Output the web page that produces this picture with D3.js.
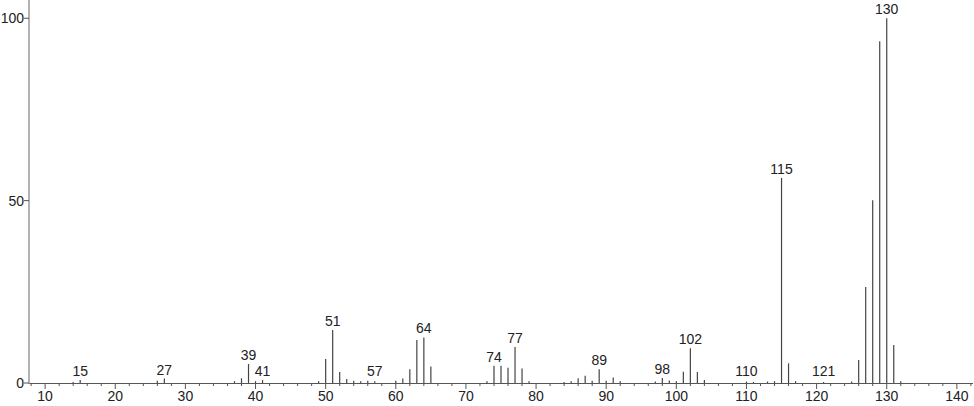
<!DOCTYPE html>
<html><head><meta charset="utf-8">
<script src="https://cdn.jsdelivr.net/npm/d3@7"></script>
<style>body{margin:0;background:#fff}svg{display:block}text{font-family:"Liberation Sans",Arial,sans-serif;}</style>
</head><body><svg id="c" width="974" height="406"></svg>
<script>
const mz = [14,15,26,27,37,38,39,40,41,49,50,51,52,53,54,55,56,57,60,61,62,63,64,65,73,74,75,76,77,78,79,84,85,86,87,88,89,90,91,92,97,98,99,100,101,102,103,104,110,111,113,114,115,116,117,121,125,126,127,128,129,130,131,132];
const intensity = [0.3,0.8,0.6,1.2,0.5,1.3,5.2,0.5,0.8,0.5,6.6,14.5,3.0,1.1,0.6,0.5,0.6,0.5,0.6,1.2,3.8,11.8,12.5,4.5,0.5,4.7,4.7,4.2,9.9,4.0,0.5,0.3,0.5,1.3,2.0,0.6,3.8,0.6,1.5,0.5,0.4,1.4,0.7,0.5,3.1,9.5,3.0,0.8,0.4,0.3,0.4,0.5,56.2,5.4,0.5,0.3,0.4,6.3,26.3,50.1,93.7,100,10.4,0.5];
const labeled = [15,27,39,41,51,57,64,74,77,89,98,102,110,115,121,130];
const xTicks = [10,20,30,40,50,60,70,80,90,100,110,120,130,140];
const yTicks = [0,50,100];

const svg = d3.select("#c");
const x = d3.scaleLinear().domain([7.7,142.3]).range([29,973]);
const y = d3.scaleLinear().domain([0,105]).range([383,0]);
const val = new Map(mz.map((m,i)=>[m,intensity[i]]));

// bars
svg.append("g").selectAll("line").data(mz).join("line")
  .attr("x1",d=>x(d)).attr("x2",d=>x(d))
  .attr("y1",y(0)).attr("y2",d=>y(val.get(d)))
  .attr("stroke","#444").attr("stroke-width",1.2);

// peak labels
svg.append("g").selectAll("text").data(labeled).join("text")
  .attr("x",d=>x(d)).attr("y",d=>Math.min(y(val.get(d)),380)-4)
  .attr("text-anchor","middle").attr("font-size",14).attr("fill","#222")
  .text(d=>d);

// x axis
const minor = d3.range(8,143,2);
const gx = svg.append("g");
gx.append("line").attr("x1",x(7.7)).attr("x2",973).attr("y1",383.5).attr("y2",383.5).attr("stroke","#555");
gx.selectAll("line.mi").data(minor).join("line").attr("class","mi")
  .attr("x1",d=>x(d)).attr("x2",d=>x(d)).attr("y1",383).attr("y2",d=>d%10===0?389:386)
  .attr("stroke","#555");
gx.selectAll("text").data(xTicks).join("text")
  .attr("x",d=>x(d)).attr("y",401).attr("text-anchor","middle").attr("font-size",14).attr("fill","#222")
  .text(d=>d);

// y axis
const gy = svg.append("g");
gy.append("line").attr("x1",29).attr("x2",29).attr("y1",0).attr("y2",384).attr("stroke","#999").attr("stroke-width",1.5);
gy.selectAll("line.t").data(yTicks).join("line").attr("class","t")
  .attr("x1",24).attr("x2",29).attr("y1",d=>y(d)).attr("y2",d=>y(d)).attr("stroke","#555");
gy.selectAll("text").data(yTicks).join("text")
  .attr("x",24).attr("y",d=>y(d)+5).attr("text-anchor","end").attr("font-size",14).attr("fill","#222")
  .text(d=>d);
</script></body></html>
